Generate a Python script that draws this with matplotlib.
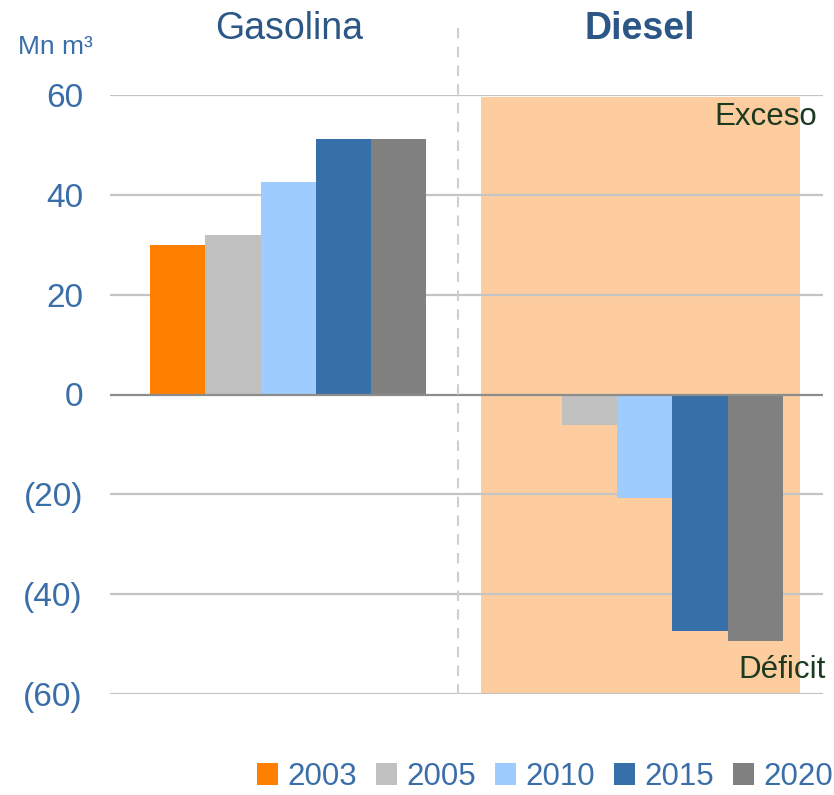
import matplotlib
matplotlib.use("Agg")
import matplotlib.pyplot as plt
from matplotlib.patches import Patch, Rectangle

plt.rcParams['font.family'] = ['Liberation Sans', 'DejaVu Sans']

categories = ["Gasolina", "Diesel"]
years = ["2003", "2005", "2010", "2015", "2020"]
values = {
    "2003": [30.0, 0.0],
    "2005": [32.0, -6.1],
    "2010": [42.5, -20.8],
    "2015": [51.2, -47.3],
    "2020": [51.2, -49.3],
}
colors = ["#FF7F00", "#C0C0C0", "#9ECCFF", "#376FA8", "#808080"]
yticks = [-60, -40, -20, 0, 20, 40, 60]
ytick_labels = ["(60)", "(40)", "(20)", "0", "20", "40", "60"]

W, H = 834, 795
fig = plt.figure(figsize=(W / 100, H / 100), dpi=100)
ax_left, ax_right = 110, 823
ax_top, ax_bot = 95, 694
ax = fig.add_axes([ax_left / W, 1 - ax_bot / H, (ax_right - ax_left) / W, (ax_bot - ax_top) / H])

ax.set_xlim(-0.5, 1.5)
ax.set_ylim(-60, 60)

# background shaded region for diesel
ax.add_patch(Rectangle((0.542, -59.7), 1.435 - 0.542, 119.3, facecolor="#FDCDA0",
                       edgecolor="none", zorder=0.5))

# gridlines
for t in yticks:
    if t != 0:
        ax.axhline(t, color="#C4C4C4", lw=1.6, zorder=1)

bw = 0.155
n = len(years)
for i, (yr, c) in enumerate(zip(years, colors)):
    offs = (i - (n - 1) / 2) * bw
    ax.bar([k + offs for k in range(len(categories))], values[yr], width=bw,
           color=c, zorder=2, linewidth=0)

ax.axhline(0, color="#8C8C8C", lw=1.6, zorder=3)

ax.set_yticks(yticks)
ax.set_yticklabels(ytick_labels, fontsize=24, color="#3A6EA8")
ax.tick_params(axis="y", length=0, pad=19.5)
ax.set_xticks([])
for s in ax.spines.values():
    s.set_visible(False)

# dashed divider
fig.add_artist(plt.Line2D([458 / W, 458 / W], [1 - 28 / H, 1 - 694 / H], color="#CFCFCF",
                          lw=1.5, ls=(0, (5, 4))))

# titles
fig.text(289 / W, 1 - 29 / H, "Gasolina", fontsize=27, color="#2B5685", ha="center", va="center")
fig.text(640 / W, 1 - 29 / H, "Diesel", fontsize=27, color="#2B5685", ha="center", va="center",
         fontweight="bold")
fig.text(18 / W, 1 - 47 / H, "Mn m³", fontsize=19, color="#3A6EA8", ha="left", va="center")

fig.text(817 / W, 1 - 117 / H, "Exceso", fontsize=22.5, color="#1B3A1F", ha="right", va="center")
fig.text(826 / W, 1 - 670 / H, "Déficit", fontsize=22.5, color="#1B3A1F", ha="right", va="center")

handles = [Patch(facecolor=c, edgecolor="none", label=y) for y, c in zip(years, colors)]
fig.legend(handles=handles, loc="center right", bbox_to_anchor=(833 / W, 1 - 777 / H), ncol=5,
           frameon=False, fontsize=22.5, handlelength=0.67, handleheight=0.67,
           handletextpad=0.29, columnspacing=0.62, labelcolor="#3A6EA8", borderpad=0,
           borderaxespad=0)

fig.savefig("out.png", dpi=100)
